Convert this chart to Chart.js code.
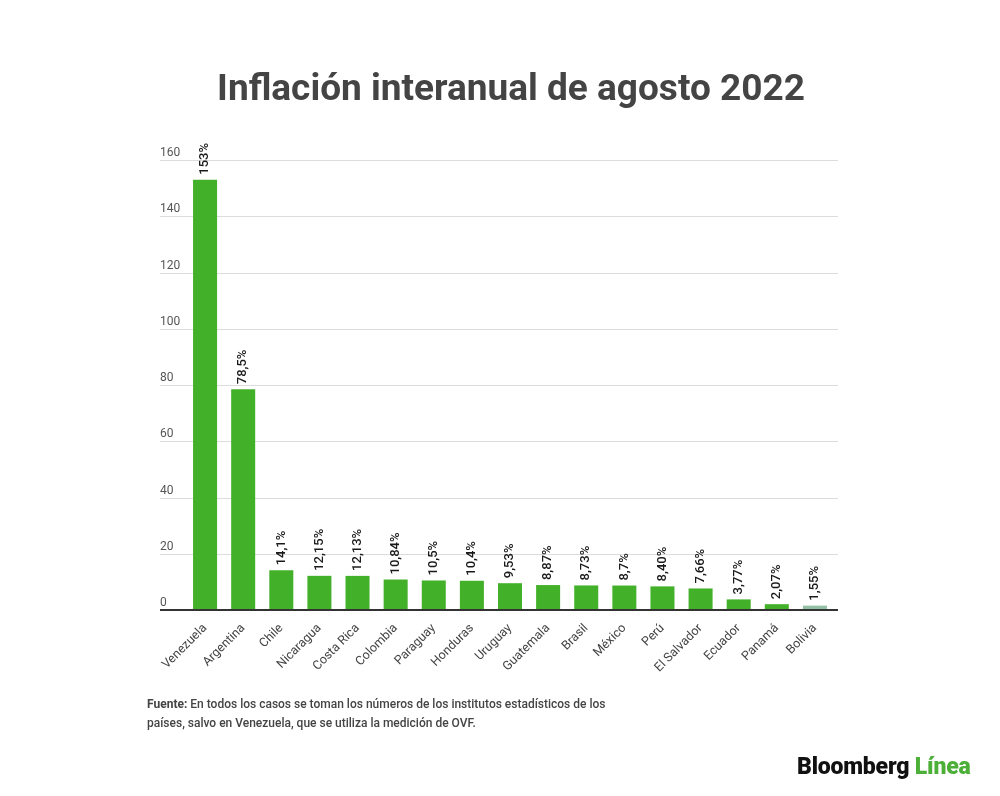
<!DOCTYPE html>
<html lang="es">
<head>
<meta charset="UTF-8">
<title>Inflación interanual de agosto 2022</title>
<script src="https://cdn.jsdelivr.net/npm/chart.js@4.4.0/dist/chart.umd.min.js"></script>
<style>
  html, body { margin: 0; padding: 0; background: #fff; }
  #wrap { position: relative; width: 1000px; height: 796px; font-family: Roboto, "Noto Sans", sans-serif; }
  #title { position: absolute; left: 0; width: 1022px; top: 66px; text-align: center;
           font-size: 37px; font-weight: 700; color: #444; }
  #note { position: absolute; left: 147px; top: 695px; font-size: 12px; line-height: 19px;
          color: #444; font-weight: 500; }
  #note b { font-weight: 700; }
  #logo { position: absolute; left: 797px; top: 753px; font-size: 23px; font-weight: 900;
          letter-spacing: -0.2px; color: #111; }
  #logo span { color: #4caf38; }
  canvas { position: absolute; left: 0; top: 0; }
</style>
</head>
<body>
<div id="wrap">
  <canvas id="myChart" width="1000" height="796"></canvas>
  <div id="title">Inflación interanual de agosto 2022</div>
  <div id="note"><b>Fuente:</b> En todos los casos se toman los números de los institutos estadísticos de los<br>países, salvo en Venezuela, que se utiliza la medición de OVF.</div>
  <div id="logo">Bloomberg <span>Línea</span></div>
</div>
<script>
  const countries = ["Venezuela", "Argentina", "Chile", "Nicaragua", "Costa Rica", "Colombia", "Paraguay",
    "Honduras", "Uruguay", "Guatemala", "Brasil", "México", "Perú", "El Salvador", "Ecuador", "Panamá", "Bolivia"];
  const inflation = [153, 78.5, 14.1, 12.15, 12.13, 10.84, 10.5, 10.4, 9.53, 8.87, 8.73, 8.7, 8.40, 7.66, 3.77, 2.07, 1.55];
  const valueLabels = ["153%", "78,5%", "14,1%", "12,15%", "12,13%", "10,84%", "10,5%", "10,4%", "9,53%",
    "8,87%", "8,73%", "8,7%", "8,40%", "7,66%", "3,77%", "2,07%", "1,55%"];
  const yTicks = [0, 20, 40, 60, 80, 100, 120, 140, 160];

  const barColors = countries.map(c => c === "Bolivia" ? "#93c0a4" : "#43b02a");

  // gridlines + y labels sit left of the bars, like the sheets export
  const gridPlugin = {
    id: "grid",
    beforeDatasetsDraw(chart) {
      const ctx = chart.ctx, y = chart.scales.y;
      ctx.save();
      ctx.font = "12px Roboto, sans-serif";
      ctx.fillStyle = "#555";
      ctx.textAlign = "left";
      ctx.textBaseline = "alphabetic";
      yTicks.forEach(v => {
        const py = Math.round(y.getPixelForValue(v)) + 0.5;
        if (v > 0) {
          ctx.strokeStyle = "#dcdcdc";
          ctx.lineWidth = 1;
          ctx.beginPath();
          ctx.moveTo(160, py);
          ctx.lineTo(838, py);
          ctx.stroke();
        }
        ctx.fillText(String(v), 160, py - 5);
      });
      ctx.restore();
    },
    afterDatasetsDraw(chart) {
      const ctx = chart.ctx, y = chart.scales.y;
      const py = y.getPixelForValue(0);
      ctx.save();
      ctx.strokeStyle = "#333";
      ctx.lineWidth = 2;
      ctx.beginPath();
      ctx.moveTo(160, py);
      ctx.lineTo(838, py);
      ctx.stroke();

      ctx.font = "500 13px Roboto, sans-serif";
      ctx.fillStyle = "#1a1a1a";
      ctx.textAlign = "left";
      ctx.textBaseline = "middle";
      chart.getDatasetMeta(0).data.forEach((bar, i) => {
        ctx.save();
        ctx.translate(bar.x, bar.y - 5);
        ctx.rotate(-Math.PI / 2);
        ctx.fillText(valueLabels[i], 0, 0);
        ctx.restore();
      });
      ctx.restore();
    }
  };

  new Chart(document.getElementById("myChart"), {
    type: "bar",
    data: {
      labels: countries,
      datasets: [{
        data: inflation,
        backgroundColor: barColors,
        barPercentage: 0.63,
        categoryPercentage: 1
      }]
    },
    options: {
      responsive: false,
      animation: false,
      layout: { padding: { top: 160, left: 186, right: 166, bottom: 0 } },
      plugins: { legend: { display: false }, tooltip: { enabled: false } },
      scales: {
        y: { display: false, min: 0, max: 160 },
        x: {
          grid: { display: false },
          border: { display: false },
          ticks: {
            maxRotation: 45, minRotation: 45, padding: 3,
            color: "#444", font: { family: "Roboto", size: 12.5 }
          },
          afterFit(s) { s.height = 186; }
        }
      }
    },
    plugins: [gridPlugin]
  });
</script>
</body>
</html>
